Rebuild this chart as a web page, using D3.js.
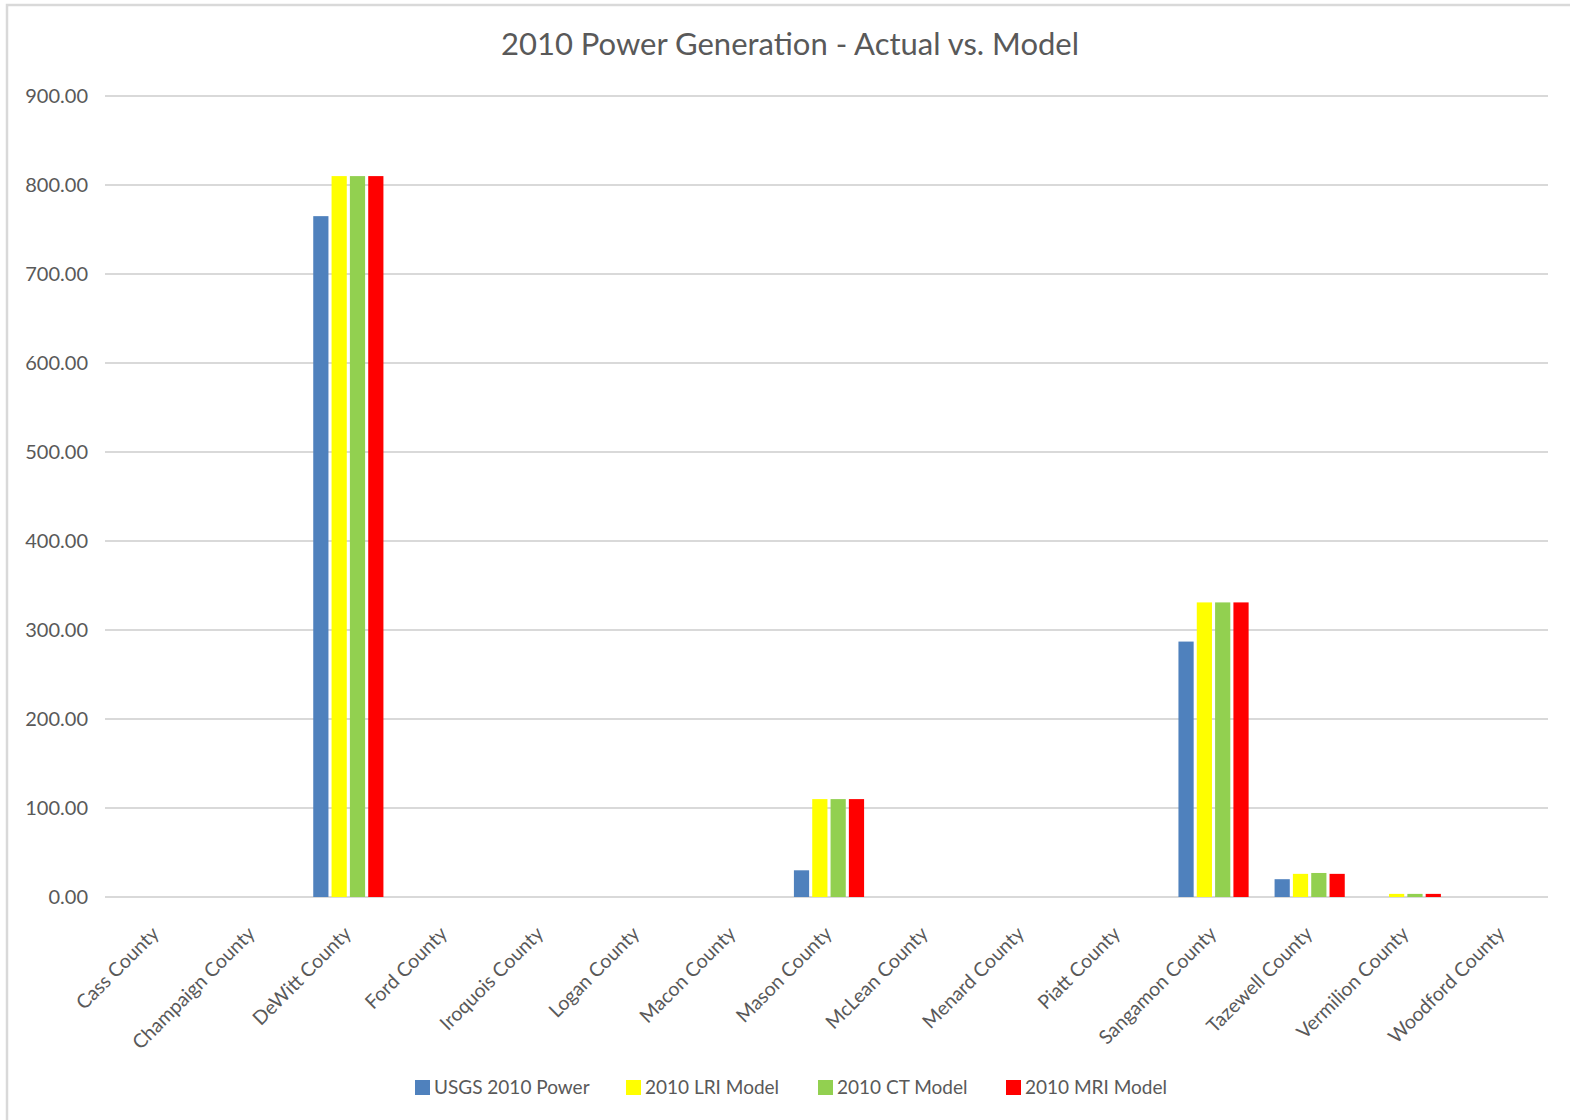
<!DOCTYPE html>
<html><head><meta charset="utf-8">
<script src="https://cdn.jsdelivr.net/npm/d3@7"></script>
<style>body{margin:0;background:#fff;}svg{display:block;font-family:Lato,"Open Sans",sans-serif;}</style>
</head><body>
<svg id="chart" width="1570" height="1120"></svg>
<script>
const categories = ["Cass County","Champaign County","DeWitt County","Ford County","Iroquois County","Logan County","Macon County","Mason County","McLean County","Menard County","Piatt County","Sangamon County","Tazewell County","Vermilion County","Woodford County"];
const seriesNames = ["USGS 2010 Power","2010 LRI Model","2010 CT Model","2010 MRI Model"];
const seriesColors = ["#4F81BD","#FFFF00","#92D050","#FF0000"];
const usgs = [0,0,765,0,0,0,0,30,0,0,0,287,20,0,0];
const lri  = [0,0,810,0,0,0,0,110,0,0,0,331,26,3.5,0];
const ct   = [0,0,810,0,0,0,0,110,0,0,0,331,27,3.5,0];
const mri  = [0,0,810,0,0,0,0,110,0,0,0,331,26,3.5,0];
const yTicks = [0,100,200,300,400,500,600,700,800,900];
const title = "2010 Power Generation - Actual vs. Model";

const series = [usgs, lri, ct, mri];
const svg = d3.select("#chart");
const W = 1570, H = 1120;
const plot = {left:105, right:1548, top:96, bottom:897};

svg.append("rect").attr("x",7).attr("y",5).attr("width",W).attr("height",H)
  .attr("fill","#fff").attr("stroke","#d9d9d9").attr("stroke-width",2.5);

svg.append("text").attr("x",790).attr("y",55).attr("text-anchor","middle")
  .attr("font-size",31).attr("fill","#595959").text(title);

const y = d3.scaleLinear().domain([0,900]).range([plot.bottom, plot.top]);
const x0 = d3.scaleBand().domain(categories).range([plot.left + 3, plot.right + 2]).paddingInner(0.27).paddingOuter(0.135);
const x1 = d3.scaleBand().domain(d3.range(4)).range([0, x0.bandwidth()]).paddingInner(0.17);

// gridlines
svg.append("g").selectAll("line").data(yTicks).join("line")
  .attr("x1",plot.left).attr("x2",plot.right)
  .attr("y1",d=>y(d)).attr("y2",d=>y(d))
  .attr("stroke","#d9d9d9").attr("stroke-width",2);

// y axis labels
const yAxis = d3.axisLeft(y).tickValues(yTicks).tickFormat(d3.format(".2f")).tickSize(0).tickPadding(0);
const yg = svg.append("g").attr("transform",`translate(88,0)`).call(yAxis);
yg.select(".domain").remove();
yg.selectAll("text").attr("font-size",20).attr("fill","#595959").attr("font-family","Lato");

// bars
const groups = svg.append("g").selectAll("g").data(categories).join("g")
  .attr("transform",d=>`translate(${x0(d)},0)`);
groups.selectAll("rect").data((c,i)=>series.map((s,k)=>({k, v:s[i]}))).join("rect")
  .attr("x",d=>x1(d.k)).attr("width",x1.bandwidth())
  .attr("y",d=>y(d.v)).attr("height",d=>plot.bottom - y(d.v))
  .attr("fill",d=>seriesColors[d.k]);

// x axis labels
const xAxis = d3.axisBottom(x0).tickSize(0).tickPadding(0);
const xg = svg.append("g").attr("transform",`translate(0,${plot.bottom})`).call(xAxis);
xg.select(".domain").remove();
xg.selectAll("text")
  .attr("font-size",19.5).attr("fill","#595959").attr("font-family","Lato")
  .attr("text-anchor","end")
  .attr("dy",null).attr("y",null)
  .attr("transform","translate(4,38) rotate(-45)");

// legend
const legendX = [415, 626, 818, 1006];
const lg = svg.append("g").selectAll("g").data(seriesNames).join("g")
  .attr("transform",(d,i)=>`translate(${legendX[i]},1080)`);
lg.append("rect").attr("width",15).attr("height",15).attr("fill",(d,i)=>seriesColors[i]);
lg.append("text").attr("x",19).attr("y",14).attr("font-size",19).attr("fill","#595959").text(d=>d);
</script>
</body></html>
